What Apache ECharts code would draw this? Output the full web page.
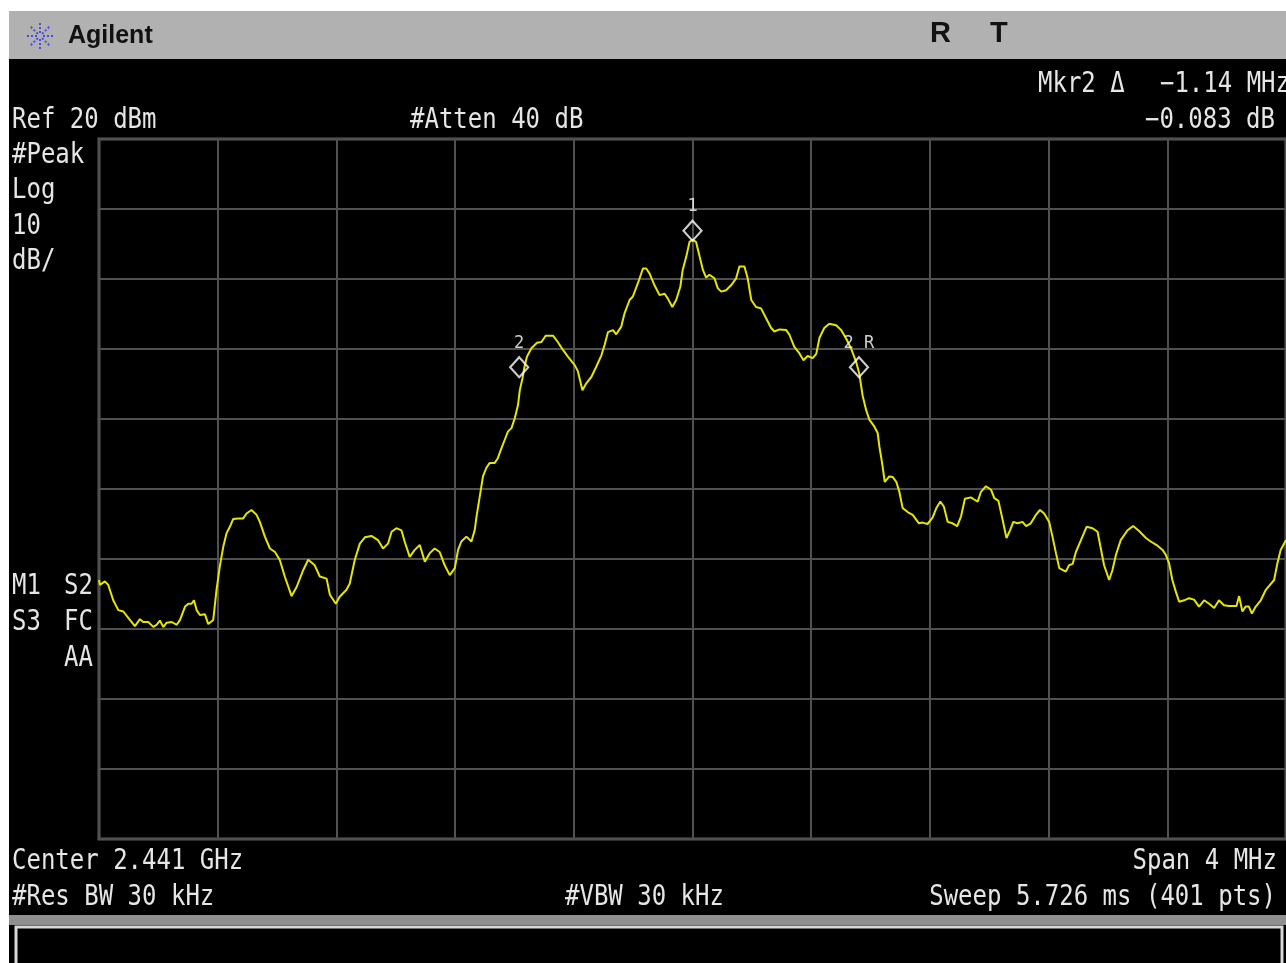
<!DOCTYPE html>
<html>
<head>
<meta charset="utf-8">
<script src="https://cdn.jsdelivr.net/npm/echarts@6/dist/echarts.min.js"></script>
<style>
html,body{margin:0;padding:0;background:#fff;}
#chart{width:1286px;height:963px;}
</style>
</head>
<body>
<div id="chart"></div>
<script>
// Frequency offset from centre (MHz) and measured level (dBm)
const freqOffsetMHz = [
 -2.000,-1.997,-1.980,-1.969,-1.952,-1.935,-1.918,-1.896,-1.879,-1.862,
 -1.851,-1.834,-1.817,-1.806,-1.795,-1.783,-1.772,-1.755,-1.738,-1.727,
 -1.710,-1.699,-1.688,-1.680,-1.671,-1.660,-1.643,-1.632,-1.615,-1.604,
 -1.593,-1.581,-1.570,-1.559,-1.548,-1.531,-1.514,-1.503,-1.486,-1.469,
 -1.458,-1.441,-1.424,-1.407,-1.391,-1.374,-1.351,-1.334,-1.312,-1.295,
 -1.273,-1.256,-1.233,-1.222,-1.202,-1.189,-1.166,-1.155,-1.138,-1.121,
 -1.104,-1.082,-1.060,-1.043,-1.026,-1.014,-0.998,-0.981,-0.970,-0.953,
 -0.936,-0.919,-0.902,-0.886,-0.869,-0.852,-0.835,-0.818,-0.801,-0.790,
 -0.779,-0.762,-0.745,-0.734,-0.728,-0.717,-0.706,-0.695,-0.684,-0.667,
 -0.656,-0.644,-0.633,-0.622,-0.610,-0.599,-0.588,-0.582,-0.573,-0.566,
 -0.558,-0.543,-0.524,-0.509,-0.495,-0.470,-0.454,-0.437,-0.420,-0.397,
 -0.386,-0.371,-0.358,-0.341,-0.324,-0.307,-0.296,-0.285,-0.268,-0.257,
 -0.240,-0.229,-0.212,-0.201,-0.184,-0.167,-0.156,-0.145,-0.128,-0.111,
 -0.094,-0.083,-0.068,-0.055,-0.041,-0.033,-0.021,-0.010,0.000,0.012,
 0.024,0.035,0.046,0.057,0.074,0.085,0.097,0.113,0.130,0.147,
 0.158,0.175,0.186,0.198,0.214,0.231,0.248,0.265,0.276,0.293,
 0.316,0.327,0.343,0.360,0.374,0.388,0.405,0.417,0.428,0.444,
 0.461,0.484,0.501,0.519,0.535,0.551,0.562,0.573,0.585,0.596,
 0.613,0.624,0.630,0.639,0.648,0.663,0.675,0.687,0.697,0.708,
 0.725,0.742,0.763,0.775,0.792,0.809,0.822,0.835,0.847,0.860,
 0.876,0.892,0.905,0.918,0.938,0.949,0.961,0.972,0.989,1.006,
 1.017,1.031,1.045,1.058,1.070,1.081,1.095,1.112,1.124,1.140,
 1.157,1.171,1.185,1.202,1.213,1.225,1.236,1.258,1.269,1.281,
 1.292,1.309,1.328,1.348,1.365,1.376,1.387,1.404,1.415,1.427,
 1.443,1.466,1.485,1.505,1.528,1.544,1.567,1.584,1.595,1.606,
 1.617,1.629,1.640,1.657,1.673,1.690,1.707,1.724,1.741,1.758,
 1.774,1.791,1.808,1.833,1.842,1.853,1.864,1.875,1.885,1.898,
 1.915,1.932,1.960,1.971,1.982,2.000
];
const levelDbm = [
 -43.0,-43.7,-43.2,-43.7,-45.9,-47.3,-47.5,-48.7,-49.6,-48.6,
 -49.0,-49.0,-49.7,-49.4,-48.8,-49.7,-49.1,-49.0,-49.4,-48.7,
 -46.8,-46.4,-46.4,-45.9,-47.3,-48.0,-47.9,-49.3,-48.7,-44.4,
 -41.1,-38.2,-36.3,-35.4,-34.3,-34.2,-34.2,-33.5,-33.0,-33.7,
 -34.7,-36.8,-38.5,-39.0,-40.1,-42.5,-45.3,-44.0,-41.6,-40.1,
 -40.9,-42.5,-42.8,-45.1,-46.4,-45.4,-44.4,-43.5,-40.1,-37.8,
 -36.9,-36.7,-37.3,-38.5,-37.8,-36.1,-35.6,-35.9,-37.5,-39.7,
 -38.7,-38.0,-40.4,-39.2,-38.5,-39.0,-40.9,-42.3,-41.3,-38.7,
 -37.5,-36.8,-37.5,-35.9,-34.0,-31.1,-28.2,-27.0,-26.3,-26.3,
 -25.6,-24.2,-23.0,-21.8,-21.3,-19.9,-18.0,-15.9,-14.2,-12.5,
 -11.1,-9.9,-9.1,-9.0,-8.1,-8.1,-9.0,-10.1,-11.1,-12.3,
 -13.2,-15.9,-14.9,-14.0,-12.5,-10.9,-9.4,-7.6,-7.3,-7.9,
 -6.8,-4.9,-3.0,-2.5,-0.6,1.5,1.5,0.8,-0.9,-2.3,
 -2.1,-2.8,-4.0,-3.0,-1.1,1.3,3.2,5.3,5.6,5.3,
 3.2,1.3,0.2,0.6,0.1,-1.3,-1.8,-1.6,-0.9,0.1,
 1.8,1.8,0.1,-3.0,-4.0,-4.2,-5.6,-7.0,-7.5,-7.2,
 -7.3,-8.0,-9.7,-10.6,-11.6,-11.0,-11.3,-10.7,-8.4,-7.0,
 -6.4,-6.6,-7.3,-8.6,-10.0,-11.8,-13.5,-16.6,-18.7,-20.1,
 -21.1,-22.0,-24.0,-26.3,-29.0,-28.2,-28.3,-29.0,-30.4,-32.7,
 -33.3,-33.7,-34.9,-34.8,-35.0,-34.1,-32.7,-31.8,-32.5,-34.7,
 -34.9,-35.3,-33.9,-31.4,-31.2,-31.5,-31.8,-30.4,-29.6,-30.1,
 -31.3,-31.7,-34.4,-37.0,-35.9,-34.7,-34.9,-34.7,-35.3,-34.9,
 -33.7,-33.0,-33.5,-34.7,-36.8,-39.2,-41.3,-41.8,-40.9,-40.7,
 -39.0,-37.3,-35.4,-35.6,-36.1,-38.5,-40.9,-43.0,-41.6,-39.4,
 -37.3,-35.9,-35.3,-36.0,-37.0,-37.5,-38.1,-38.7,-39.4,-40.6,
 -43.0,-44.7,-46.1,-45.9,-45.6,-45.8,-46.8,-45.9,-46.4,-47.0,
 -45.9,-46.6,-46.7,-46.7,-45.3,-47.5,-46.8,-46.8,-47.8,-46.8,
 -45.9,-44.4,-43.0,-40.6,-38.7,-37.3
];
// Markers
const markerNames = ['1', '2', '2 R'];
const markerFreq = [0.0, -0.584, 0.561];
const markerLevel = [6.9, -12.6, -12.6];

// Axis settings
const refLevelDbm = 20;
const bottomLevelDbm = -80;
const dbPerDiv = 10;
const halfSpanMHz = 2;
const freqPerDiv = 0.4;

const traceData = freqOffsetMHz.map((f, i) => [f, levelDbm[i]]);
const markerData = markerFreq.map((f, i) => [f, markerLevel[i]]);

const TXT = '#e6e6e6';
const MONO = '"DejaVu Sans Mono", "Liberation Mono", monospace';
function t(text, x, y, align) {
  return {
    type: 'text', x: x, y: y + 3, scaleY: 1.15, silent: true,
    style: { text: text, fill: TXT, fontSize: 24, fontFamily: MONO,
             align: align || 'left', verticalAlign: 'middle' }
  };
}

// Agilent spark logo
const logo = [];
for (let k = 0; k < 8; k++) {
  const a = k * Math.PI / 4;
  logo.push({ type: 'line', silent: true,
    shape: { x1: 40 + Math.cos(a) * 3, y1: 36 + Math.sin(a) * 3,
             x2: 40 + Math.cos(a) * 13, y2: 36 + Math.sin(a) * 13 },
    style: { stroke: '#4a4ae8', lineWidth: 2, lineDash: [2, 2] } });
}

const chart = echarts.init(document.getElementById('chart'), null, { renderer: 'canvas' });
chart.setOption({
  animation: false,
  backgroundColor: '#000',
  grid: { left: 99, top: 139, width: 1190, height: 700, show: true,
          borderColor: '#5e5e5e', borderWidth: 3, backgroundColor: '#000' },
  xAxis: { type: 'value', min: -halfSpanMHz, max: halfSpanMHz, interval: freqPerDiv,
           axisLine: { show: false }, axisTick: { show: false }, axisLabel: { show: false },
           splitLine: { show: true, lineStyle: { color: '#505050', width: 2 } } },
  yAxis: { type: 'value', min: bottomLevelDbm, max: refLevelDbm, interval: dbPerDiv,
           axisLine: { show: false }, axisTick: { show: false }, axisLabel: { show: false },
           splitLine: { show: true, lineStyle: { color: '#505050', width: 2 } } },
  series: [
    { type: 'line', data: traceData, showSymbol: false, symbol: 'none',
      lineStyle: { color: '#e6e600', width: 2 }, z: 3 },
    { type: 'scatter', data: markerData, symbol: 'diamond', symbolSize: [18, 20], z: 4,
      itemStyle: { color: 'rgba(0,0,0,0)', borderColor: '#ffffff', borderWidth: 2.2 },
      label: { show: true, position: 'top', distance: 4, color: '#ffffff',
               fontSize: 17, fontFamily: MONO,
               formatter: p => markerNames[p.dataIndex] } }
  ],
  graphic: [
    // white margins
    { type: 'rect', silent: true, shape: { x: 0, y: 0, width: 1286, height: 11 }, style: { fill: '#fff' } },
    { type: 'rect', silent: true, shape: { x: 0, y: 0, width: 9, height: 963 }, style: { fill: '#fff' } },
    // header bar
    { type: 'rect', silent: true, shape: { x: 9, y: 11, width: 1277, height: 48 }, style: { fill: '#b1b1b1' } },
    ...logo,
    { type: 'text', x: 68, y: 36, silent: true,
      style: { text: 'Agilent', fill: '#111', fontSize: 25, fontWeight: 'bold',
               fontFamily: '"Liberation Sans", Arial, sans-serif', align: 'left', verticalAlign: 'middle' } },
    { type: 'text', x: 930, y: 34, silent: true,
      style: { text: 'R', fill: '#111', fontSize: 29, fontWeight: 'bold',
               fontFamily: '"Liberation Sans", Arial, sans-serif', align: 'left', verticalAlign: 'middle' } },
    { type: 'text', x: 990, y: 34, silent: true,
      style: { text: 'T', fill: '#111', fontSize: 29, fontWeight: 'bold',
               fontFamily: '"Liberation Sans", Arial, sans-serif', align: 'left', verticalAlign: 'middle' } },
    // top annotations
    t('Mkr2 \u0394', 1038, 82),
    t('\u22121.14 MHz', 1290, 82, 'right'),
    t('Ref 20 dBm', 12, 118),
    t('#Atten 40 dB', 410, 118),
    t('\u22120.083 dB', 1275, 118, 'right'),
    // left column
    t('#Peak', 12, 153),
    t('Log', 12, 188),
    t('10', 12, 224),
    t('dB/', 12, 259),
    t('M1', 12, 584),
    t('S2', 93, 584, 'right'),
    t('S3', 12, 620),
    t('FC', 93, 620, 'right'),
    t('AA', 93, 656, 'right'),
    // bottom annotations
    t('Center 2.441 GHz', 12, 859),
    t('Span 4 MHz', 1277, 859, 'right'),
    t('#Res BW 30 kHz', 12, 895),
    t('#VBW 30 kHz', 565, 895),
    t('Sweep 5.726 ms (401 pts)', 1276, 895, 'right'),
    // bottom frame
    { type: 'rect', silent: true, shape: { x: 9, y: 915, width: 1277, height: 10 }, style: { fill: '#8f8f8f' } },
    { type: 'rect', silent: true, shape: { x: 16, y: 927, width: 1266, height: 45 },
      style: { fill: '#000', stroke: '#d8d8d8', lineWidth: 3 } }
  ]
});
</script>
</body>
</html>
